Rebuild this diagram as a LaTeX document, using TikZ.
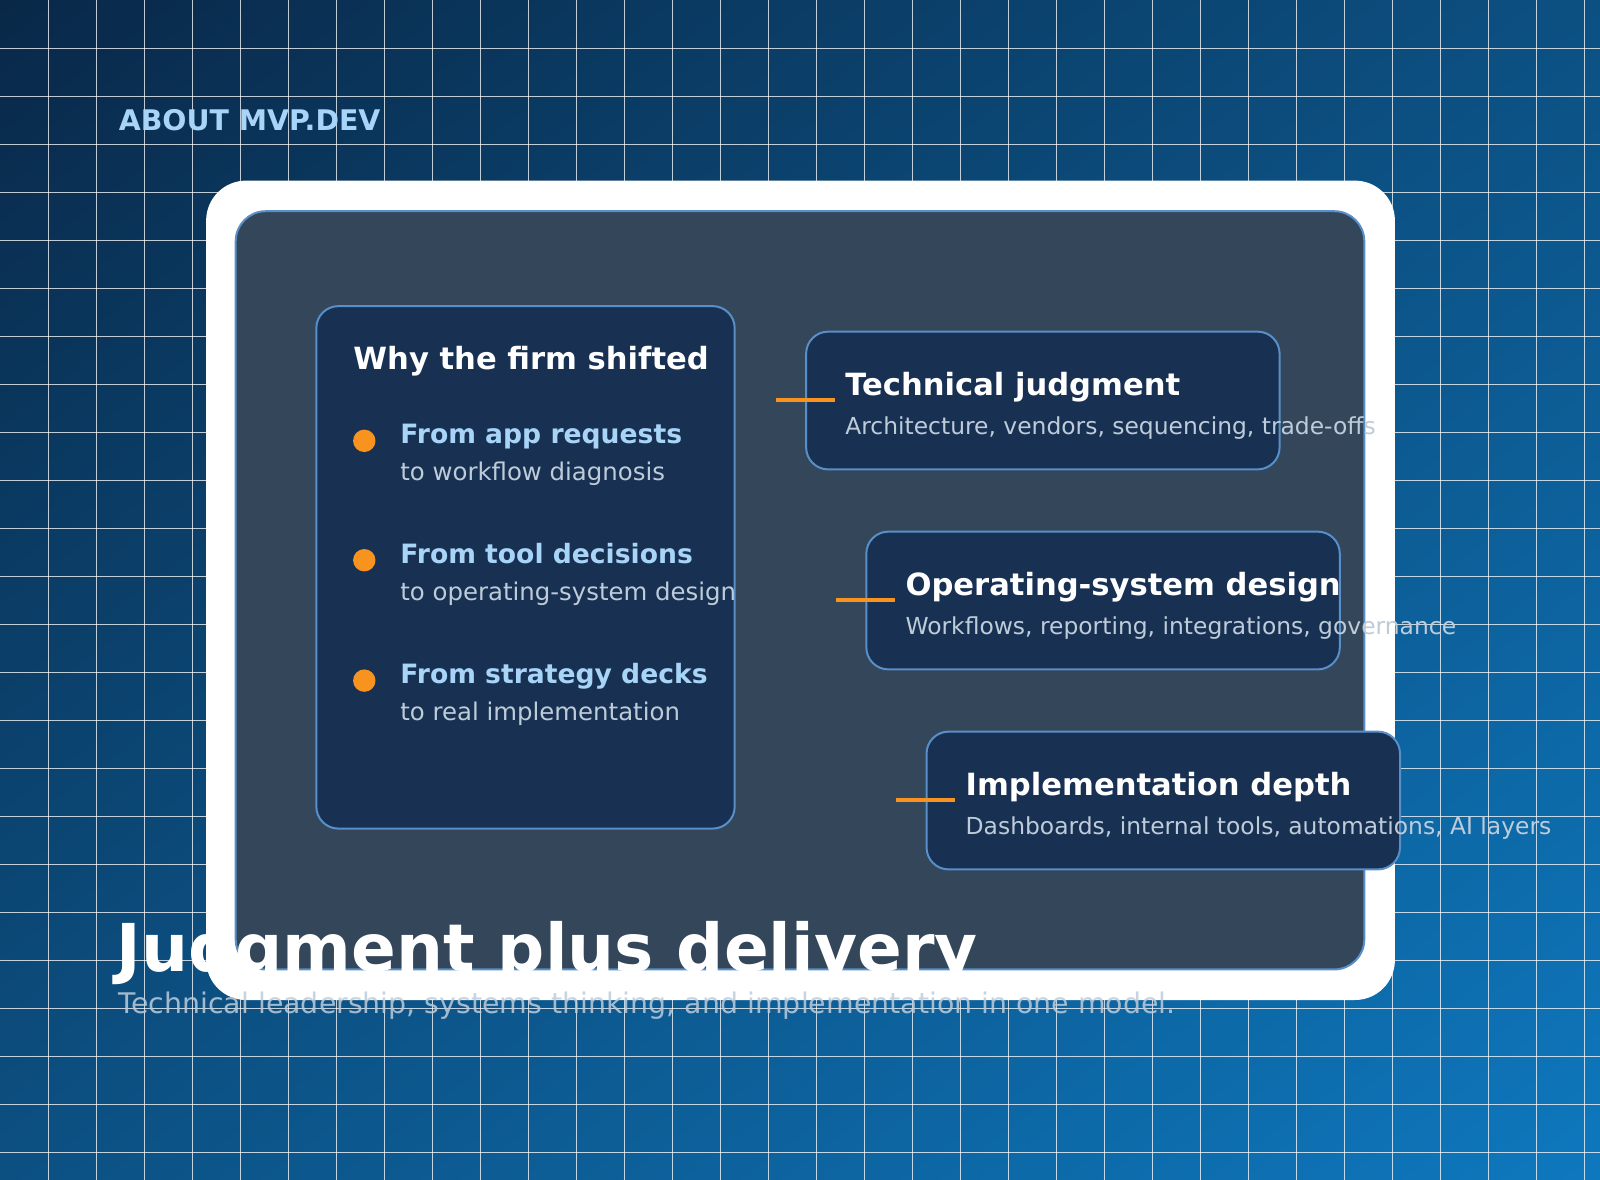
\documentclass[tikz,border=0pt]{standalone}
\usepackage{fontspec}
\setmainfont{DejaVu Sans}
\usepackage{xcolor}
\definecolor{bgdark}{RGB}{9, 40, 72}
\definecolor{bgmid}{RGB}{12, 80, 130}
\definecolor{bglight}{RGB}{14, 120, 190}
\definecolor{panel}{RGB}{52, 70, 90}
\definecolor{card}{RGB}{24, 49, 82}
\definecolor{edge}{RGB}{88, 143, 200}
\definecolor{accent}{RGB}{247, 147, 30}
\definecolor{skyblue}{RGB}{168, 212, 248}
\definecolor{muted}{RGB}{190, 204, 218}
\usetikzlibrary{positioning, shadings}
\tikzset{
  gridline/.style={white, opacity=0.75, line width=0.5pt},
  card/.style={draw=edge, fill=card, line width=1pt, rounded corners=11pt},
  tick/.style={accent, line width=2.2pt},
  bullet/.style={circle, fill=accent, minimum size=11.2pt, inner sep=0pt},
  title/.style={anchor=base west, inner sep=0pt, text=white, font=\bfseries\fontsize{15.3}{18}\selectfont},
  sub/.style={anchor=base west, inner sep=0pt, text=muted, font=\fontsize{11.7}{14}\selectfont},
  item/.style={anchor=base west, inner sep=0pt, text=skyblue, font=\bfseries\fontsize{13.3}{15}\selectfont},
  itemsub/.style={anchor=base west, inner sep=0pt, text=muted, font=\fontsize{12.2}{14}\selectfont}
}
\begin{document}
\begin{tikzpicture}[x=0.5102pt, y=-0.5102pt]
    % background
    \shade[upper left=bgdark, upper right=bgmid, lower left=bgmid, lower right=bglight] (0,0) rectangle (1568,1156);
    \useasboundingbox (0,0) rectangle (1568,1156);
    \foreach \i in {1,...,33} \draw[gridline] (\i*47.06,0) -- (\i*47.06,1156);
    \foreach \j in {1,...,24} \draw[gridline] (0,\j*47.06) -- (1568,\j*47.06);

    \node[anchor=base west, inner sep=0pt, text=skyblue, font=\bfseries\fontsize{14.2}{16}\selectfont] (eyebrow) at (116,128) {ABOUT MVP.DEV};

    % frame and panel
    \fill[white, rounded corners=20pt] (202,177) rectangle (1367,980);
    \draw[draw=edge, fill=panel, line width=1pt, rounded corners=15pt] (231,207) rectangle (1337,950);

    % left card
    \draw[card] (310,300) rectangle (720,812);
    \node[title] (why) at (346,362) {Why the firm shifted};
    \foreach \y/\a/\b [count=\k] in {432/From app requests/to workflow diagnosis,
                                   549/From tool decisions/to operating-system design,
                                   667/From strategy decks/to real implementation} {
      \node[bullet] (dot\k) at (357,\y) {};
      \node[item] (from\k) at (392,\y+3) {\a};
      \node[itemsub] (to\k) at (392,\y+39) {\b};
    }

    % right cards
    \foreach \x/\y/\a/\b [count=\k] in {790/325/Technical judgment/{Architecture, vendors, sequencing, trade-offs},
                                      849/521/Operating-system design/{Workflows, reporting, integrations, governance},
                                      908/717/Implementation depth/{Dashboards, internal tools, automations, AI layers}} {
      \draw[card] (\x,\y) rectangle (\x+464,\y+135);
      \coordinate (tickA\k) at (\x-30,\y+67);
      \coordinate (tickB\k) at (\x+28,\y+67);
      \draw[tick] (tickA\k) -- (tickB\k);
      \node[title] (pillar\k) at (\x+38,\y+63) {\a};
      \node[sub] (detail\k) at (\x+38,\y+101) {\b};
    }

    % headline
    \node[anchor=base west, inner sep=0pt, text=white, font=\bfseries\fontsize{33}{40}\selectfont] (headline) at (114,952) {Judgment plus delivery};
    \node[anchor=base west, inner sep=0pt, text=muted, opacity=0.85, font=\fontsize{14.2}{16}\selectfont] (tagline) at (116,993) {Technical leadership, systems thinking, and implementation in one model.};
\end{tikzpicture}
\end{document}
